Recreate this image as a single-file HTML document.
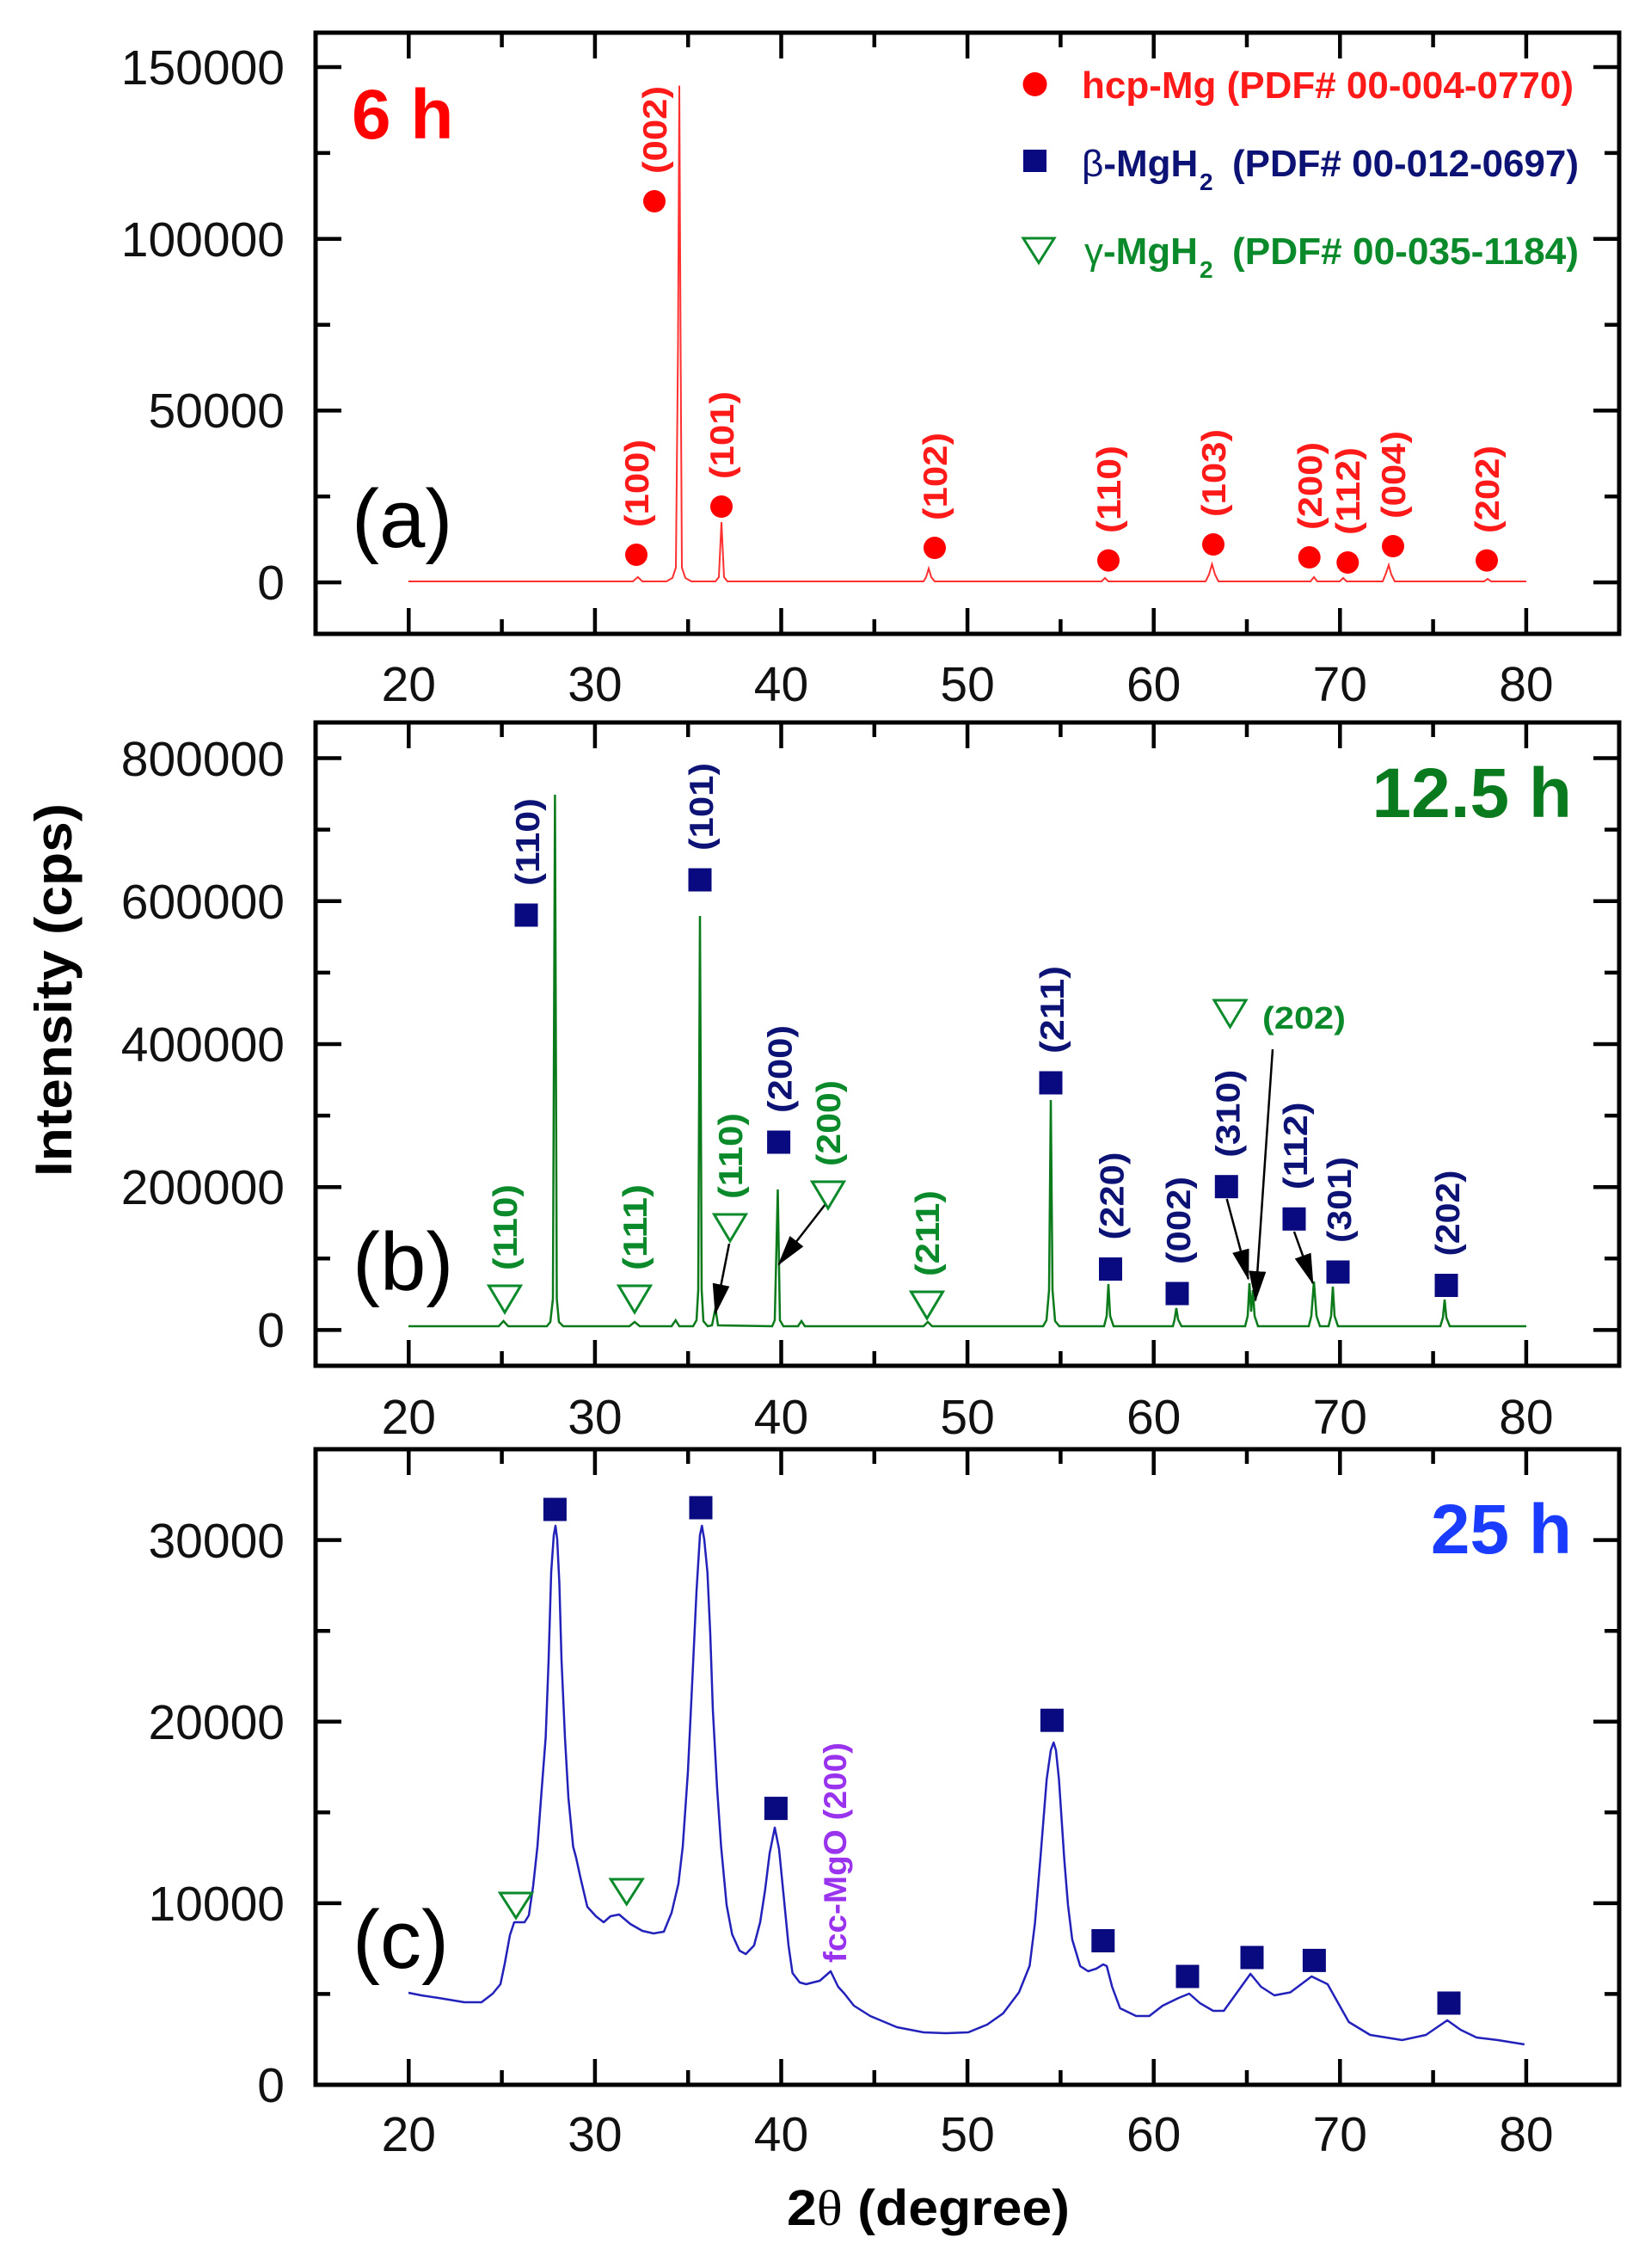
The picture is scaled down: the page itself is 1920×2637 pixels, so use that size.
<!DOCTYPE html>
<html>
<head>
<meta charset="utf-8">
<style>
html,body{margin:0;padding:0;background:#fff;}
svg{display:block;}
text{font-family:"Liberation Sans",Arial,sans-serif;}
.tk{font-size:57px;fill:#111;}
.lr{font-size:39px;font-weight:bold;fill:#ff1a1a;}
.lb{font-size:39px;font-weight:bold;fill:#0d1275;}
.lg{font-size:39px;font-weight:bold;fill:#0a8a2a;}
</style>
</head>
<body>
<svg width="1920" height="2637" viewBox="0 0 1920 2637" xmlns="http://www.w3.org/2000/svg">
<defs>
<marker id="ah" markerWidth="36" markerHeight="20" refX="34" refY="10" orient="auto" markerUnits="userSpaceOnUse">
<path d="M0,0 L36,10 L0,20 Z" fill="#000"/>
</marker>
</defs>
<rect width="1920" height="2637" fill="#fff"/>

<!-- ================= PANEL A ================= -->
<path d="M475,676 L736,676 L741.8,671 L747,676 L775,676 L782,672 L786,660 L788.5,400 L790,99.6 L791.5,400 L793,660 L797,672 L804,676 L832,676 L836,671 L839,607 L842,671 L846,676 L1074,676 L1077,671 L1080,661 L1083,671 L1087,676 L1281,676 L1285,672 L1289,676 L1402,676 L1406,668 L1409.5,656 L1413,668 L1417,676 L1524,676 L1528,671 L1532,676 L1558,676 L1562,672 L1566,676 L1608,676 L1612,666 L1615,657 L1618,668 L1622,676 L1726,676 L1730,673 L1734,676 L1775,676" fill="none" stroke="#ff3030" stroke-width="2"/>
<rect x="367" y="38" width="1516" height="699" fill="none" stroke="#000" stroke-width="5"/>
<path d="M475.3,737V707 M691.9,737V707 M908.5,737V707 M1125.1,737V707 M1341.7,737V707 M1558.3,737V707 M1774.9,737V707
M583.6,737V720 M800.2,737V720 M1016.8,737V720 M1233.4,737V720 M1450,737V720 M1666.6,737V720
M475.3,38V68 M691.9,38V68 M908.5,38V68 M1125.1,38V68 M1341.7,38V68 M1558.3,38V68 M1774.9,38V68
M583.6,38V55 M800.2,38V55 M1016.8,38V55 M1233.4,38V55 M1450,38V55 M1666.6,38V55
M367,677.1H397 M367,477.4H397 M367,277.7H397 M367,78H397
M367,577.3H384 M367,377.6H384 M367,177.9H384
M1883,677.1H1853 M1883,477.4H1853 M1883,277.7H1853 M1883,78H1853
M1883,577.3H1866 M1883,377.6H1866 M1883,177.9H1866" stroke="#000" stroke-width="4.5" fill="none"/>
<g class="tk" text-anchor="end">
<text x="331" y="697">0</text>
<text x="331" y="497">50000</text>
<text x="331" y="298">100000</text>
<text x="331" y="98">150000</text>
</g>
<g class="tk" text-anchor="middle">
<text x="475.3" y="815">20</text><text x="691.9" y="815">30</text><text x="908.5" y="815">40</text><text x="1125.1" y="815">50</text><text x="1341.7" y="815">60</text><text x="1558.3" y="815">70</text><text x="1774.9" y="815">80</text>
</g>
<text x="409" y="161" font-size="82" font-weight="bold" fill="#ff0000">6 h</text>
<text x="409" y="636" font-size="96" fill="#000">(a)</text>
<!-- legend -->
<circle cx="1203.5" cy="98" r="14" fill="#ff0000"/>
<text x="1258" y="114" font-size="44" font-weight="bold" fill="#ff1a1a" textLength="572" lengthAdjust="spacingAndGlyphs">hcp-Mg (PDF# 00-004-0770)</text>
<rect x="1190" y="174" width="27" height="26" fill="#0a0a80"/>
<text x="1258" y="205" font-size="44" font-weight="bold" fill="#0d1275"><tspan font-weight="normal">β</tspan>-MgH</text>
<text x="1395" y="221" font-size="28" font-weight="bold" fill="#0d1275">2</text>
<text x="1433" y="205" font-size="44" font-weight="bold" fill="#0d1275" textLength="403" lengthAdjust="spacingAndGlyphs">(PDF# 00-012-0697)</text>
<path d="M1190,277 L1226,277 L1208,305.6 Z" fill="none" stroke="#0a8a2a" stroke-width="3"/>
<text x="1261" y="307" font-size="44" font-weight="bold" fill="#0a8a2a"><tspan font-weight="normal">γ</tspan>-MgH</text>
<text x="1395" y="323" font-size="28" font-weight="bold" fill="#0a8a2a">2</text>
<text x="1433" y="307" font-size="44" font-weight="bold" fill="#0a8a2a" textLength="403" lengthAdjust="spacingAndGlyphs">(PDF# 00-035-1184)</text>
<!-- markers a -->
<g fill="#ff0000">
<circle cx="740" cy="645" r="13"/><circle cx="761" cy="234" r="13"/><circle cx="839" cy="589" r="13"/>
<circle cx="1087" cy="637" r="13"/><circle cx="1289" cy="651.6" r="13"/><circle cx="1411" cy="633" r="13"/>
<circle cx="1522.7" cy="648" r="13"/><circle cx="1567.3" cy="654" r="13"/><circle cx="1620" cy="635" r="13"/>
<circle cx="1729" cy="651.6" r="13"/>
</g>
<g class="lr">
<text transform="translate(754,613) rotate(-90)" textLength="102" lengthAdjust="spacingAndGlyphs">(100)</text>
<text transform="translate(775,202) rotate(-90)" textLength="102" lengthAdjust="spacingAndGlyphs">(002)</text>
<text transform="translate(853,557) rotate(-90)" textLength="102" lengthAdjust="spacingAndGlyphs">(101)</text>
<text transform="translate(1101,605) rotate(-90)" textLength="102" lengthAdjust="spacingAndGlyphs">(102)</text>
<text transform="translate(1303,620) rotate(-90)" textLength="102" lengthAdjust="spacingAndGlyphs">(110)</text>
<text transform="translate(1425,601) rotate(-90)" textLength="102" lengthAdjust="spacingAndGlyphs">(103)</text>
<text transform="translate(1537,616) rotate(-90)" textLength="102" lengthAdjust="spacingAndGlyphs">(200)</text>
<text transform="translate(1581,622) rotate(-90)" textLength="102" lengthAdjust="spacingAndGlyphs">(112)</text>
<text transform="translate(1634,603) rotate(-90)" textLength="102" lengthAdjust="spacingAndGlyphs">(004)</text>
<text transform="translate(1743,620) rotate(-90)" textLength="102" lengthAdjust="spacingAndGlyphs">(202)</text>
</g>

<!-- ================= PANEL B ================= -->
<path d="M475,1542 L580,1542 L585.5,1536 L591,1542 L636,1542 L640,1537 L643,1510 L645.4,924 L647.5,1510 L650,1537 L655,1542 L732,1542 L738,1537 L744,1542 L781,1542 L785.7,1535 L790,1542 L806,1542 L810,1535 L812,1500 L814,1065 L816,1500 L818,1536 L823,1542 L828,1541 L832,1521 L835,1541 L898,1542 L901,1535 L904.5,1383 L907,1535 L911,1542 L928,1542 L932,1536 L936,1542 L1074,1542 L1079,1537 L1084,1542 L1213,1542 L1217,1535 L1220,1500 L1222,1279 L1224,1500 L1227,1536 L1232,1542 L1284,1542 L1287,1530 L1289,1493 L1291,1530 L1295,1542 L1364,1542 L1366,1534 L1368,1521 L1370,1534 L1374,1542 L1448,1542 L1451,1530 L1453,1492 L1455,1525 L1457,1500 L1459,1530 L1463,1542 L1522,1542 L1525,1530 L1528,1490 L1531,1530 L1535,1542 L1545,1542 L1548,1530 L1550,1496 L1552,1530 L1556,1542 L1675,1542 L1678,1532 L1680,1511 L1682,1532 L1686,1542 L1775,1542" fill="none" stroke="#0a7a1a" stroke-width="2.5"/>
<rect x="367" y="840" width="1516" height="748" fill="none" stroke="#000" stroke-width="5"/>
<path d="M475.3,1588V1558 M691.9,1588V1558 M908.5,1588V1558 M1125.1,1588V1558 M1341.7,1588V1558 M1558.3,1588V1558 M1774.9,1588V1558
M583.6,1588V1571 M800.2,1588V1571 M1016.8,1588V1571 M1233.4,1588V1571 M1450,1588V1571 M1666.6,1588V1571
M475.3,840V870 M691.9,840V870 M908.5,840V870 M1125.1,840V870 M1341.7,840V870 M1558.3,840V870 M1774.9,840V870
M583.6,840V857 M800.2,840V857 M1016.8,840V857 M1233.4,840V857 M1450,840V857 M1666.6,840V857
M367,1546.4H397 M367,1380.2H397 M367,1214H397 M367,1047.7H397 M367,881.5H397
M367,1463.3H384 M367,1297.1H384 M367,1130.9H384 M367,964.6H384
M1883,1546.4H1853 M1883,1380.2H1853 M1883,1214H1853 M1883,1047.7H1853 M1883,881.5H1853
M1883,1463.3H1866 M1883,1297.1H1866 M1883,1130.9H1866 M1883,964.6H1866" stroke="#000" stroke-width="4.5" fill="none"/>
<g class="tk" text-anchor="end">
<text x="331" y="1566">0</text>
<text x="331" y="1400">200000</text>
<text x="331" y="1234">400000</text>
<text x="331" y="1068">600000</text>
<text x="331" y="902">800000</text>
</g>
<g class="tk" text-anchor="middle">
<text x="475.3" y="1667">20</text><text x="691.9" y="1667">30</text><text x="908.5" y="1667">40</text><text x="1125.1" y="1667">50</text><text x="1341.7" y="1667">60</text><text x="1558.3" y="1667">70</text><text x="1774.9" y="1667">80</text>
</g>
<text x="1828" y="950" font-size="82" font-weight="bold" fill="#0a7a1e" text-anchor="end">12.5 h</text>
<text x="410" y="1500" font-size="96" fill="#000">(b)</text>
<!-- arrows b -->
<g stroke="#000" stroke-width="2.5" fill="none" marker-end="url(#ah)">
<line x1="848" y1="1446" x2="832" y2="1527"/>
<line x1="960" y1="1400" x2="905.6" y2="1470"/>
<line x1="1426.7" y1="1394" x2="1451.7" y2="1487"/>
<line x1="1480" y1="1220" x2="1460" y2="1512"/>
<line x1="1505" y1="1432" x2="1526.7" y2="1492"/>
</g>
<!-- squares b -->
<g fill="#0a0a80">
<rect x="598.5" y="1050.5" width="27" height="27"/>
<rect x="800.5" y="1009.5" width="27" height="27"/>
<rect x="892.1" y="1314.5" width="27" height="27"/>
<rect x="1208.5" y="1245.5" width="27" height="27"/>
<rect x="1278" y="1462" width="27" height="27"/>
<rect x="1355.5" y="1490.5" width="27" height="27"/>
<rect x="1412.8" y="1366.2" width="27" height="27"/>
<rect x="1491.5" y="1403.8" width="27" height="27"/>
<rect x="1542.5" y="1465.5" width="27" height="27"/>
<rect x="1668.5" y="1481" width="27" height="27"/>
</g>
<g fill="none" stroke="#0a8a2a" stroke-width="3">
<path d="M568.5,1495 L605.5,1495 L587,1526 Z"/>
<path d="M719.5,1495 L756.5,1495 L738,1526 Z"/>
<path d="M830.5,1412 L867.5,1412 L849,1443 Z"/>
<path d="M944.5,1374 L981.5,1374 L963,1405 Z"/>
<path d="M1059.5,1502 L1096.5,1502 L1078,1533 Z"/>
<path d="M1412,1163 L1449,1163 L1430.5,1194 Z"/>
</g>
<g class="lb">
<text transform="translate(627,1030) rotate(-90)" textLength="102" lengthAdjust="spacingAndGlyphs">(110)</text>
<text transform="translate(829,989) rotate(-90)" textLength="102" lengthAdjust="spacingAndGlyphs">(101)</text>
<text transform="translate(920.6,1294) rotate(-90)" textLength="102" lengthAdjust="spacingAndGlyphs">(200)</text>
<text transform="translate(1237,1225) rotate(-90)" textLength="102" lengthAdjust="spacingAndGlyphs">(211)</text>
<text transform="translate(1306.5,1441.5) rotate(-90)" textLength="102" lengthAdjust="spacingAndGlyphs">(220)</text>
<text transform="translate(1384,1470) rotate(-90)" textLength="102" lengthAdjust="spacingAndGlyphs">(002)</text>
<text transform="translate(1441.3,1345.7) rotate(-90)" textLength="102" lengthAdjust="spacingAndGlyphs">(310)</text>
<text transform="translate(1520,1383.3) rotate(-90)" textLength="102" lengthAdjust="spacingAndGlyphs">(112)</text>
<text transform="translate(1571,1445) rotate(-90)" textLength="100" lengthAdjust="spacingAndGlyphs">(301)</text>
<text transform="translate(1697,1460.5) rotate(-90)" textLength="100" lengthAdjust="spacingAndGlyphs">(202)</text>
</g>
<g class="lg">
<text transform="translate(601,1477) rotate(-90)" textLength="100" lengthAdjust="spacingAndGlyphs">(110)</text>
<text transform="translate(752,1477) rotate(-90)" textLength="100" lengthAdjust="spacingAndGlyphs">(111)</text>
<text transform="translate(863,1394) rotate(-90)" textLength="100" lengthAdjust="spacingAndGlyphs">(110)</text>
<text transform="translate(977,1356) rotate(-90)" textLength="100" lengthAdjust="spacingAndGlyphs">(200)</text>
<text transform="translate(1092,1484) rotate(-90)" textLength="100" lengthAdjust="spacingAndGlyphs">(211)</text>
<text x="1468" y="1196" font-size="36" textLength="97" lengthAdjust="spacingAndGlyphs">(202)</text>
</g>

<!-- ================= PANEL C ================= -->
<polyline points="475,2317 490,2320 510,2323 540,2328 560,2328 573,2318 582,2307 587,2283 593,2250 598,2235 610,2235 615,2227 620,2193 625,2147 630,2080 634.6,2020 638,1930 641,1828 644,1785 646,1774 648,1790 650.5,1841 653,1930 657,2020 661,2090 666.5,2147 670,2160 675,2183 683,2217 693,2228 702,2235 710,2228 720,2226 733,2237 747,2245 760,2248 772,2246 781,2224 789,2190 794,2147 800,2060 805,1956 810,1850 814,1785 816.3,1774 819,1790 822.7,1828 826,1900 829,1988 834,2080 838.6,2147 845,2215 851.4,2249 860,2268 867.3,2272 876.9,2262 884,2235 889.7,2198 895,2155 901,2125 906,2150 912,2211 917,2262 921.6,2294 930,2305 937.5,2307 953.4,2303 966,2292 974.7,2310 982,2318 993,2332 1012,2344 1043,2357 1074,2363 1100,2364 1126,2363 1148,2354 1166.5,2341 1185,2316.5 1197.4,2285.6 1203.6,2236 1209.8,2162 1217.2,2069 1222,2035 1225.3,2026 1228,2035 1231.5,2069 1237.7,2162 1242,2215 1246.9,2255 1256.2,2286 1265.5,2292 1274.8,2289 1283,2284 1287.1,2286 1293.3,2310 1302.6,2335 1321.2,2344 1336.6,2344 1352.1,2332 1370.7,2323 1383,2318 1395.4,2329 1410.9,2338 1423.2,2338 1438.7,2316.5 1454.2,2295 1466.5,2310 1482,2320 1500.6,2316.5 1525.3,2298 1543.9,2307 1556.2,2329 1568.6,2351 1593.4,2366 1630.5,2372 1658.3,2366 1683.1,2349 1698.5,2360 1717.1,2369 1741.8,2372 1772.8,2377" fill="none" stroke="#2222bb" stroke-width="2.5" stroke-linejoin="round"/>
<rect x="367" y="1685" width="1516" height="739" fill="none" stroke="#000" stroke-width="5"/>
<path d="M475.3,2424V2394 M691.9,2424V2394 M908.5,2424V2394 M1125.1,2424V2394 M1341.7,2424V2394 M1558.3,2424V2394 M1774.9,2424V2394
M583.6,2424V2407 M800.2,2424V2407 M1016.8,2424V2407 M1233.4,2424V2407 M1450,2424V2407 M1666.6,2424V2407
M475.3,1685V1715 M691.9,1685V1715 M908.5,1685V1715 M1125.1,1685V1715 M1341.7,1685V1715 M1558.3,1685V1715 M1774.9,1685V1715
M583.6,1685V1702 M800.2,1685V1702 M1016.8,1685V1702 M1233.4,1685V1702 M1450,1685V1702 M1666.6,1685V1702
M367,2212.9H397 M367,2001.7H397 M367,1790.6H397
M367,2318.4H384 M367,2107.3H384 M367,1896.2H384
M1883,2212.9H1853 M1883,2001.7H1853 M1883,1790.6H1853
M1883,2318.4H1866 M1883,2107.3H1866 M1883,1896.2H1866" stroke="#000" stroke-width="4.5" fill="none"/>
<g class="tk" text-anchor="end">
<text x="331" y="2444">0</text>
<text x="331" y="2233">10000</text>
<text x="331" y="2022">20000</text>
<text x="331" y="1811">30000</text>
</g>
<g class="tk" text-anchor="middle">
<text x="475.3" y="2501">20</text><text x="691.9" y="2501">30</text><text x="908.5" y="2501">40</text><text x="1125.1" y="2501">50</text><text x="1341.7" y="2501">60</text><text x="1558.3" y="2501">70</text><text x="1774.9" y="2501">80</text>
</g>
<text x="1828" y="1806" font-size="82" font-weight="bold" fill="#1a3cff" text-anchor="end">25 h</text>
<text x="410" y="2288" font-size="96" fill="#000">(c)</text>
<g fill="#0a0a80">
<rect x="631.9" y="1741.5" width="27" height="27"/>
<rect x="801.5" y="1739.5" width="27" height="27"/>
<rect x="888.9" y="2089.1" width="27" height="27"/>
<rect x="1209.9" y="1986.7" width="27" height="27"/>
<rect x="1269.3" y="2243" width="27" height="27"/>
<rect x="1367.5" y="2284.5" width="27" height="27"/>
<rect x="1442.5" y="2262.5" width="27" height="27"/>
<rect x="1514.9" y="2265.9" width="27" height="27"/>
<rect x="1671.5" y="2315.5" width="27" height="27"/>
</g>
<g fill="none" stroke="#0a8a2a" stroke-width="3">
<path d="M581.5,2201 L618.5,2201 L600,2230 Z"/>
<path d="M710.2,2185 L747.2,2185 L728.7,2214 Z"/>
</g>
<text transform="translate(984,2282) rotate(-90)" font-size="37" font-weight="bold" fill="#9933ee" textLength="256" lengthAdjust="spacingAndGlyphs">fcc-MgO (200)</text>

<!-- axis titles -->
<text transform="translate(83,1151) rotate(-90)" text-anchor="middle" font-size="60" font-weight="bold" fill="#000" textLength="434" lengthAdjust="spacingAndGlyphs">Intensity (cps)</text>
<text x="915" y="2587" font-size="58" font-weight="bold" fill="#000" textLength="329" lengthAdjust="spacingAndGlyphs">2<tspan font-family="Liberation Serif, serif" font-weight="normal">θ</tspan> (degree)</text>
</svg>
</body>
</html>
